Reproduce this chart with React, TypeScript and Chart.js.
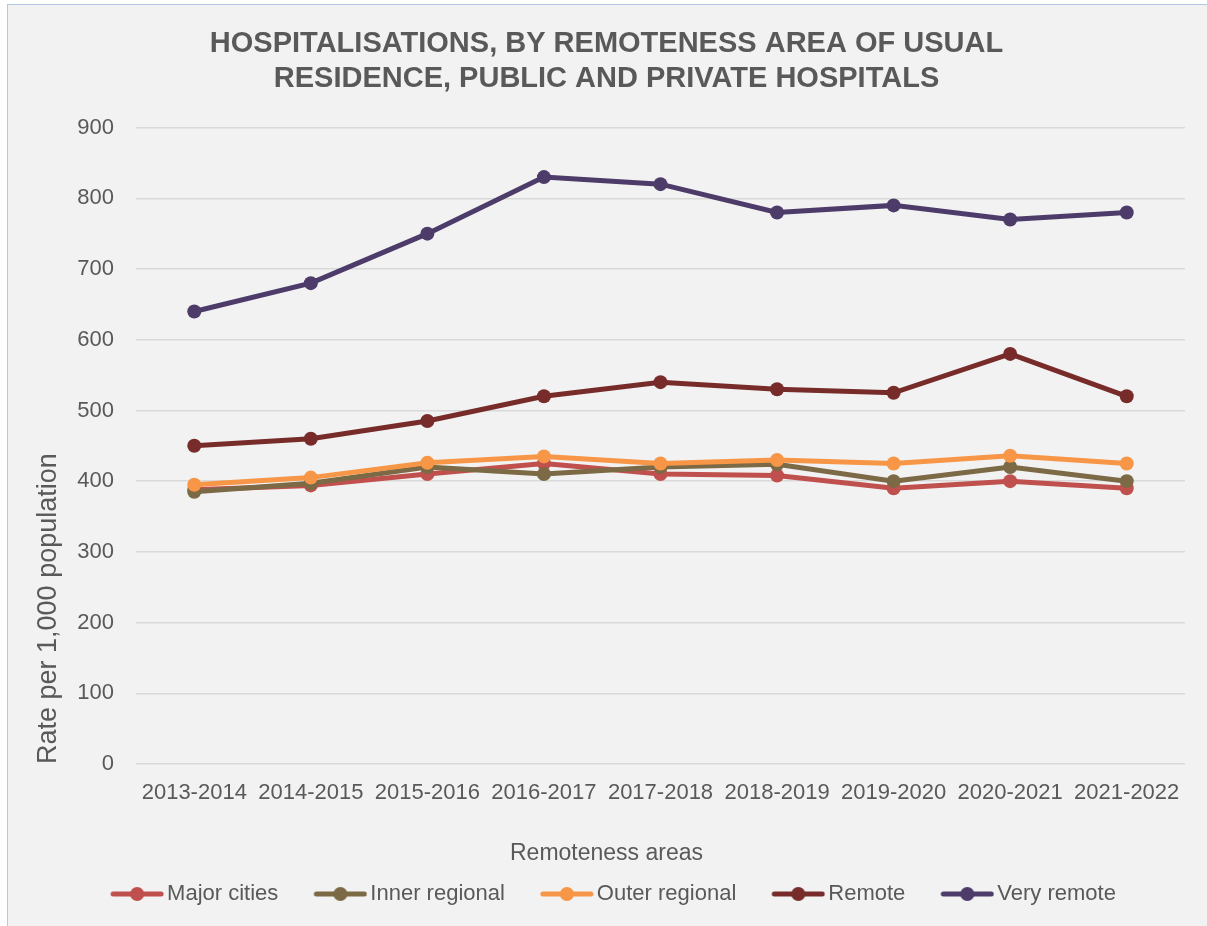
import React, { useEffect, useRef } from "react";
import { Chart, registerables } from "chart.js";

Chart.register(...registerables);

const categories = [
  "2013-2014", "2014-2015", "2015-2016", "2016-2017", "2017-2018",
  "2018-2019", "2019-2020", "2020-2021", "2021-2022",
];
const majorCities = [388, 394, 410, 425, 410, 408, 390, 400, 390];
const innerRegional = [385, 397, 420, 410, 420, 424, 400, 420, 400];
const outerRegional = [395, 405, 426, 435, 425, 430, 425, 436, 425];
const remote = [450, 460, 485, 520, 540, 530, 525, 580, 520];
const veryRemote = [640, 680, 750, 830, 820, 780, 790, 770, 780];

const seriesNames = ["Major cities", "Inner regional", "Outer regional", "Remote", "Very remote"];
const seriesValues = [majorCities, innerRegional, outerRegional, remote, veryRemote];
const seriesColors = ["#C0504D", "#7B6A45", "#F79646", "#772C2A", "#4D3B69"];

const titleLines = [
  "HOSPITALISATIONS, BY REMOTENESS AREA OF USUAL",
  "RESIDENCE, PUBLIC AND PRIVATE HOSPITALS",
];
const yAxisTitle = "Rate per 1,000 population";
const xAxisTitle = "Remoteness areas";
const yMin = 0;
const yMax = 900;
const yStep = 100;

const TEXT = "#595959";
const FONT = "'Liberation Sans', Arial, sans-serif";

function makeLegendSymbol(color: string): HTMLCanvasElement {
  const W = 75;
  const H = 18;
  const c = document.createElement("canvas");
  c.width = W;
  c.height = H;
  const ctx = c.getContext("2d")!;
  const symW = 54;
  const x0 = W - symW;
  ctx.strokeStyle = color;
  ctx.lineWidth = 5;
  ctx.lineCap = "round";
  ctx.beginPath();
  ctx.moveTo(x0 + 3, H / 2);
  ctx.lineTo(W - 3, H / 2);
  ctx.stroke();
  ctx.fillStyle = color;
  ctx.beginPath();
  ctx.arc(x0 + symW / 2, H / 2, 7, 0, Math.PI * 2);
  ctx.fill();
  return c;
}

export default function App() {
  const canvasRef = useRef<HTMLCanvasElement | null>(null);

  useEffect(() => {
    if (!canvasRef.current) return;
    const symbols = seriesColors.map((c) => makeLegendSymbol(c));
    const chart = new Chart(canvasRef.current, {
      type: "line",
      data: {
        labels: categories,
        datasets: seriesNames.map((name, i) => ({
          label: name,
          data: seriesValues[i],
          borderColor: seriesColors[i],
          backgroundColor: seriesColors[i],
          borderWidth: 5,
          pointRadius: 7,
          pointHoverRadius: 7,
          pointBorderWidth: 0,
          pointBackgroundColor: seriesColors[i],
          tension: 0,
          fill: false,
          order: seriesNames.length - 1 - i,
        })),
      },
      options: {
        responsive: false,
        animation: false,
        layout: { padding: { left: 20, right: 22, top: 0, bottom: 11 } },
        scales: {
          x: {
            offset: true,
            grid: { display: false, drawTicks: false },
            border: { display: false },
            ticks: {
              color: TEXT,
              font: { family: FONT, size: 22 },
              padding: 16,
              maxRotation: 0,
              autoSkip: false,
            },
          },
          y: {
            min: yMin,
            max: yMax,
            afterFit: (s: any) => {
              s.width = 108;
            },
            grid: { color: "#D9D9D9", lineWidth: 1.5, drawTicks: false },
            border: { display: false },
            ticks: {
              stepSize: yStep,
              color: TEXT,
              font: { family: FONT, size: 22 },
              padding: 22,
            },
            title: {
              display: true,
              text: yAxisTitle,
              align: "start",
              color: TEXT,
              font: { family: FONT, size: 27 },
              padding: { top: 4, bottom: 0 },
            },
          },
        },
        plugins: {
          title: {
            display: true,
            text: titleLines,
            color: TEXT,
            font: { family: FONT, size: 29, weight: "bold", lineHeight: 1.2 },
            padding: { top: 22, bottom: 31 },
          },
          subtitle: {
            display: true,
            text: xAxisTitle,
            position: "bottom",
            weight: 500,
            color: TEXT,
            font: { family: FONT, size: 23 },
            padding: { top: 17, bottom: -6 },
          },
          legend: {
            position: "bottom",
            labels: {
              color: TEXT,
              font: { family: FONT, size: 22 },
              usePointStyle: true,
              pointStyleWidth: 59,
              padding: 22,
              generateLabels: (ch: any) =>
                ch.data.datasets.map((ds: any, i: number) => ({
                  text: ds.label,
                  fillStyle: seriesColors[i],
                  strokeStyle: seriesColors[i],
                  fontColor: TEXT,
                  lineWidth: 0,
                  pointStyle: symbols[i],
                  hidden: false,
                  datasetIndex: i,
                })),
            },
          },
          tooltip: { enabled: false },
        },
      },
    });
    return () => chart.destroy();
  }, []);

  return (
    <div
      style={{
        position: "absolute",
        left: 7,
        top: 4,
        width: 1200,
        height: 922,
        boxSizing: "border-box",
        borderLeft: "1px solid #B4C7E7",
        borderTop: "1px solid #B4C7E7",
        background: "#F2F2F2",
      }}
    >
      <canvas ref={canvasRef} width={1199} height={921} style={{ display: "block" }} />
    </div>
  );
}
